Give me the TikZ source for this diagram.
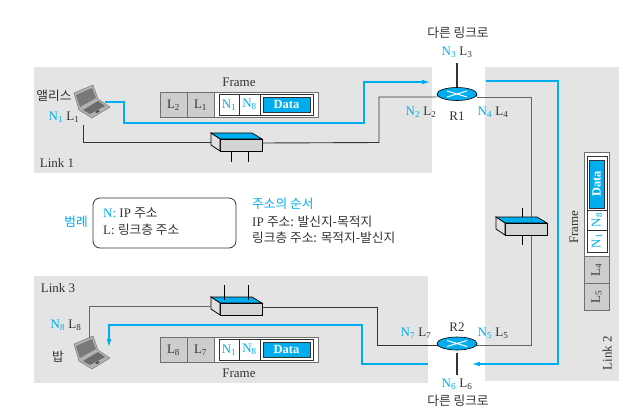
\documentclass[tikz,border=0pt]{standalone}
\usepackage{fontspec}
\setmainfont{Liberation Serif}
\newfontfamily\kr{Noto Sans CJK KR}
\usetikzlibrary{shapes.geometric,arrows.meta}
\definecolor{netblue}{HTML}{00AEEF}
\definecolor{linkgray}{HTML}{E4E4E4}
\definecolor{cellgray}{HTML}{CDCDCD}
\definecolor{inkgray}{HTML}{333333}
\newcommand{\nsub}[2]{{\color{netblue}#1\textsubscript{#2}}}
\newcommand{\lsub}[2]{#1\textsubscript{#2}}
\newcommand{\krsize}{\fontsize{12.7}{15}\selectfont\kr}
\tikzset{
  lab/.style={font=\fontsize{13}{15}\selectfont,text=inkgray,inner sep=0pt},
  krlab/.style={font=\krsize,text=inkgray,inner sep=0pt},
  datalab/.style={text=white,font=\fontsize{12.5}{14}\selectfont\bfseries,inner sep=0pt},
  wire/.style={draw=inkgray,line width=0.9pt},
  wireg/.style={draw=gray!80!black,line width=1pt},
  wireb/.style={draw=netblue,line width=1.1pt},
  tipb/.style={-{Latex[length=8pt,width=5pt]}},
  stub/.style={draw=black,line width=0.7pt},
  cell/.style={draw=inkgray!70,line width=0.7pt},
  inner/.style={draw=inkgray,line width=0.7pt},
  router/.style={ellipse,draw=black,fill=netblue,line width=0.6pt,minimum width=40pt,minimum height=13pt,inner sep=0pt},
  switch/.pic={
    \fill[netblue,draw=black,line width=0.7pt] (0,0) -- (41,0) -- (51,6) -- (9,6) -- cycle;
    \fill[cellgray!85,draw=black,line width=0.8pt] (9,6) -- (51,6) -- (51,18) -- (9,18) -- cycle;
    \fill[cellgray!60,draw=black,line width=0.8pt] (0,0) -- (9,6) -- (9,18) -- (0,12) -- cycle;
    \coordinate (-left) at (0,9);
    \coordinate (-right) at (51,10);
  },
  laptop/.pic={
    \fill[gray!60,draw=gray!85!black,line width=0.4pt] (0,8) -- (19,0) -- (24,14) -- (36,22) -- (18,33) -- (5,25) -- cycle;
    \fill[gray!95!black] (2,10) -- (18,3) -- (22,13) -- (6,22) -- cycle;
    \fill[gray!85!black] (9,25) -- (24,16) -- (31,21) -- (16,29) -- cycle;
    \fill[black!70] (21,27) -- (24,25) -- (26,26) -- (23,28) -- cycle;
  },
}
\begin{document}
\begin{tikzpicture}[x=1pt,y=-1pt]
\useasboundingbox (0,0) rectangle (636,415);

% link areas
\fill[linkgray] (34,67) rectangle (432,173);
\fill[linkgray] (485,67) rectangle (619,381);
\fill[linkgray] (34,276) rectangle (428,383);

\node[lab] (link1) at (57,163) {Link 1};
\node[lab] (link3) at (58,288) {Link 3};
\node[lab,rotate=90] (link2) at (607,353) {Link 2};

% routers
\fill[black] (437,97) arc (180:360:20 and 6.5) -- (477,94) -- (437,94) -- cycle;
\fill[black] (437,346.5) arc (180:360:20 and 6.5) -- (477,343.5) -- (437,343.5) -- cycle;
\node[router] (r1) at (457,94) {};
\node[router] (r2) at (457,343.5) {};
\draw[white,line width=1pt] (447,91) -- (467,97) (447,97) -- (467,91);
\draw[white,line width=1pt] (447,340.5) -- (467,346.5) (447,346.5) -- (467,340.5);
\node[lab] (r1lab) at (457,116) {R1};
\node[lab] (r2lab) at (457,327) {R2};

\coordinate (r1top) at (457,63);
\coordinate (r2bot) at (457,375);
\draw[draw=inkgray,line width=1.3pt] (r1top) -- (r1.north);
\draw[draw=inkgray,line width=1.3pt] (r2.south) ++(0,3) -- (r2bot);

% switches
\coordinate (w2top) at (531,97);
\coordinate (w2bot) at (531,345.5);
\draw[wireg] (w2top -| r1.east) -- (w2top) -- (w2bot) -- (w2bot -| r2.east);
\pic (sw1) at (211,133) {switch};
\pic (sw2) at (496,217) {switch};
\pic (sw3) at (211,297) {switch};
\coordinate (w2a) at (531,217);
\coordinate (w2b) at (531,223);
\draw[wireg] (w2a) -- (w2b);

\draw[stub] (231,151) -- (231,162);
\draw[stub] (248,151) -- (248,162);
\draw[stub] (224,285) -- (224,300);
\draw[stub] (248,285) -- (248,300);
\draw[stub] (522,208) -- (522,217);
\draw[stub] (522,235) -- (522,245);

% laptops
\pic (alice) at (74,85) {laptop};
\pic (bob) at (74,336) {laptop};

% wires
\coordinate (a1) at (83,125);
\coordinate (a2) at (83,142);
\coordinate (a3) at (379,142.5);
\coordinate (a4) at (379,97);
\draw[wire] (a1) -- (a2) -- (sw1-left);
\draw[wire] (sw1-right) -- (a3) -- (a4) -- (a4 -| r1.west);
\coordinate (b1) at (89,338);
\coordinate (b2) at (89,306);
\coordinate (b3) at (377,307);
\coordinate (b4) at (377,345.5);
\draw[wireg] (b1) -- (b2) -- (sw3-left);
\draw[wire] (sw3-right) -- (b3) -- (b4) -- (b4 -| r2.west);

% blue path
\coordinate (p0) at (105,102);
\coordinate (p1) at (124,102);
\coordinate (p2) at (124,123);
\coordinate (p3) at (364,123);
\coordinate (p4) at (364,82);
\coordinate (p5) at (430,82);
\draw[wireb,tipb] (p0) -- (p1) -- (p2) -- (p3) -- (p4) -- (p5);
\coordinate (q0) at (486,81);
\coordinate (q1) at (558,81);
\coordinate (q2) at (558,364);
\coordinate (q3) at (472,364);
\draw[wireb,tipb] (q0) -- (q1) -- (q2) -- (q3);
\coordinate (s0) at (428,364);
\coordinate (s1) at (362,364);
\coordinate (s2) at (362,325);
\coordinate (s3) at (109,325);
\coordinate (s4) at (109,347);
\draw[wireb,tipb] (s0) -- (s1) -- (s2) -- (s3) -- (s4);

% address labels
\node[krlab] (alicelab) at (54,96) {앨리스};
\node[krlab] (boblab) at (58,357) {밥};
\node[lab] (n1l1) at (64,117) {\nsub{N}{1} \lsub{L}{1}};
\node[lab] (n8l8) at (66,325) {\nsub{N}{8} \lsub{L}{8}};
\node[lab] (n2l2) at (421,112) {\nsub{N}{2} \lsub{L}{2}};
\node[lab] (n3l3) at (457,52) {\nsub{N}{3} \lsub{L}{3}};
\node[lab] (n4l4) at (493,112) {\nsub{N}{4} \lsub{L}{4}};
\node[lab] (n5l5) at (493,333) {\nsub{N}{5} \lsub{L}{5}};
\node[lab] (n6l6) at (457,384) {\nsub{N}{6} \lsub{L}{6}};
\node[lab] (n7l7) at (416,333) {\nsub{N}{7} \lsub{L}{7}};
\node[krlab] (other1) at (458,33) {다른 링크로};
\node[krlab] (other2) at (458,401) {다른 링크로};

% frame on link 1
\node[lab] (frame1) at (239,82) {Frame};
\draw[cell,fill=white] (160,92) rectangle (318,117);
\draw[cell,fill=cellgray] (160,92) rectangle (187,117);
\draw[cell,fill=cellgray] (187,92) rectangle (214,117);
\draw[inner] (219,94) rectangle (313,115);
\draw[inner] (239,94) -- (239,115) (260,94) -- (260,115);
\draw[draw=inkgray,fill=netblue,line width=0.5pt] (263,97) rectangle (310,112);
\node[lab] at (173.5,105) {\lsub{L}{2}};
\node[lab] at (200.5,105) {\lsub{L}{1}};
\node[lab] at (229,105) {\nsub{N}{1}};
\node[lab] at (249.5,104) {\nsub{N}{8}};
\node[datalab] at (286.5,104.5) {Data};

% frame on link 3
\node[lab] (frame3) at (239,373) {Frame};
\draw[cell,fill=white] (160,337) rectangle (318,362);
\draw[cell,fill=cellgray] (160,337) rectangle (187,362);
\draw[cell,fill=cellgray] (187,337) rectangle (214,362);
\draw[inner] (219,339) rectangle (313,360);
\draw[inner] (239,339) -- (239,360) (260,339) -- (260,360);
\draw[draw=inkgray,fill=netblue,line width=0.5pt] (263,342) rectangle (310,357);
\node[lab] at (173.5,350) {\lsub{L}{8}};
\node[lab] at (200.5,350) {\lsub{L}{7}};
\node[lab] at (229,350) {\nsub{N}{1}};
\node[lab] at (249.5,349) {\nsub{N}{8}};
\node[datalab] at (286.5,349.5) {Data};

% frame on link 2
\node[lab,rotate=90] (frame2) at (574,227) {Frame};
\draw[cell,fill=white] (584,152) rectangle (609,310);
\draw[cell,fill=cellgray] (584,256) rectangle (609,283);
\draw[cell,fill=cellgray] (584,283) rectangle (609,310);
\draw[inner] (587,156) rectangle (607,252);
\draw[inner] (587,210) -- (607,210) (587,230) -- (607,230);
\draw[draw=inkgray,fill=netblue,line width=0.5pt] (589,160) rectangle (604,208);
\node[lab,rotate=90] at (596.5,270) {\lsub{L}{4}};
\node[lab,rotate=90] at (596.5,297) {\lsub{L}{5}};
\node[lab,rotate=90] at (597,241) {\nsub{N}{1}};
\node[lab,rotate=90] at (597,220) {\nsub{N}{8}};
\node[datalab,rotate=90] at (596.5,184) {Data};

% legend
\node[krlab,text=netblue] (legendlab) at (76,222) {범례};
\node[draw=inkgray,rounded corners=7pt,line width=0.8pt,minimum width=143pt,minimum height=50pt] (legend) at (164.5,223) {};
\node[lab,anchor=west] (legn) at (103,213) {{\color{netblue}N:} IP {\krsize 주소}};
\node[lab,anchor=west] (legl) at (103,230) {L: {\krsize 링크층 주소}};
\node[krlab,text=netblue,anchor=west] (order) at (252,204) {주소의 순서};
\node[lab,anchor=west] (order1) at (252,222) {IP {\krsize 주소: 발신지-목적지}};
\node[krlab,anchor=west] (order2) at (252,238) {링크층 주소: 목적지-발신지};
\end{tikzpicture}
\end{document}
